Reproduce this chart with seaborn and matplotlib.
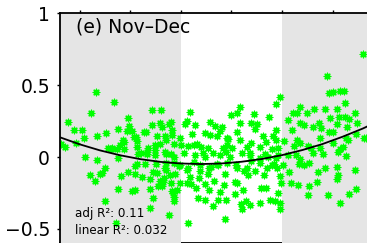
import numpy as np
import pandas as pd
import matplotlib
matplotlib.use('Agg')
import matplotlib.pyplot as plt
import seaborn as sns

# scatter values (year, anomaly)
years = [1953.3, 1956.8, 1952.3, 1959.5, 1947.6, 1948.9, 1950.4, 1950.9, 1953.5, 1955.2,
         1957.6, 1959.3, 1960.4, 1960.8, 1958.6, 1958.0, 1955.6, 1956.2, 1949.3, 1946.3,
         1947.1, 1957.4, 1951.0, 1953.5, 1957.6, 1955.0, 1954.5, 1952.1, 1953.0, 1954.1,
         1958.2, 1959.5, 1960.9, 1957.6, 1960.4, 1955.0, 1957.1, 1961.0, 1963.8, 1964.5,
         1963.8, 1967.6, 1966.3, 1965.8, 1966.7, 1968.0, 1968.3, 1968.7, 1968.6, 1961.3,
         1963.0, 1965.0, 1965.3, 1967.1, 1969.6, 1968.9, 1966.8, 1958.8, 1959.7, 1961.3,
         1962.8, 1964.3, 1965.3, 1966.8, 1967.6, 1968.3, 1965.9, 1968.6, 1969.9, 1965.9,
         1963.3, 1963.6, 1961.6, 1958.7, 1956.4, 1964.8, 1967.1, 1968.1, 1964.2, 1966.1,
         1968.1, 1966.2, 1963.2, 1961.1, 1968.3, 1967.1, 1964.9, 1961.4, 1970.1, 1962.1,
         1963.4, 1964.8, 1966.8, 1968.7, 1962.4, 1963.8, 1964.4, 1965.4, 1966.4, 1967.1,
         1967.8, 1968.5, 1969.2, 1969.9, 1961.0, 1968.7, 1969.9,
         1971.9, 1971.2, 1972.8, 1975.8, 1972.2, 1974.7, 1975.8, 1972.5, 1975.3, 1973.9,
         1981.6, 1981.2, 1979.9, 1984.4, 1987.5, 1981.6, 1983.8, 1985.1, 1978.2, 1976.8,
         1977.8, 1981.2, 1984.7, 1988.8, 1979.4, 1981.7, 1979.1, 1983.8, 1988.2, 1986.9,
         1988.9, 1980.1, 1983.1, 1985.7, 1988.0, 1970.8, 1977.1, 1979.1, 1986.2, 1989.2,
         1971.5, 1973.1, 1974.4, 1978.3, 1983.6, 1986.6, 1988.8, 1971.5, 1973.8, 1975.4,
         1977.1, 1979.1, 1981.1, 1982.4, 1983.8, 1985.7, 1987.0, 1988.4, 1971.2, 1974.7,
         1981.1, 1970.7, 1972.7, 1974.8, 1971.2, 1971.9, 1972.9, 1973.5, 1974.8, 1975.5,
         1971.4, 1972.5, 1973.7, 1975.5, 1976.4, 1977.7, 1979.0, 1979.7, 1982.0, 1983.6,
         1985.7, 1987.2, 1989.2, 1990.2, 1976.0, 1977.3, 1978.7, 1981.0, 1983.0, 1983.3,
         1984.7, 1986.4, 1988.0, 1989.0, 1989.6, 1989.9, 1976.5, 1978.5, 1977.8, 1980.7,
         1980.7, 1982.3, 1985.9, 1986.9, 1989.2, 1987.6, 1988.6, 1989.7, 1989.7, 1985.7,
         1982.9, 1983.6, 1981.8, 1982.0, 1978.9, 1977.3, 1976.4, 1978.7, 1973.3, 1972.0,
         2006.1, 1998.9, 1989.7, 1988.9, 1999.3, 2000.1, 2001.4, 2002.2, 2002.4, 1993.5,
         1992.2, 1992.9, 1994.9, 1996.3, 1998.5, 2000.9, 2004.4, 1991.1, 1993.5, 1994.4,
         1997.3, 1999.5, 2001.3, 2002.5, 2003.3, 2004.9, 1991.9, 1996.1, 1997.8, 1999.2,
         2000.1, 2000.8, 2002.8, 2006.6, 1992.9, 1993.5, 1995.2, 1997.5, 2000.1, 2003.0,
         2002.0, 1997.5, 1991.1, 1992.7, 1993.4, 1994.4, 1995.4, 1996.1, 1998.1, 2001.1,
         2002.6, 2000.8, 1998.6, 1997.2, 1991.3, 2004.4, 2001.1, 2000.8, 1991.7, 1993.2,
         1995.4, 1997.0, 1995.2, 1999.0, 2003.2, 2004.6, 2001.5, 1990.3, 1992.3, 1995.8,
         2001.5, 2002.7, 2004.7, 2006.3, 1993.5]
values = [0.453, 0.384, 0.308, 0.273, 0.243, 0.185, 0.185, 0.130, 0.146, 0.165,
          0.192, 0.181, 0.183, 0.137, 0.118, 0.085, 0.063, 0.053, 0.095, 0.092,
          0.072, 0.058, 0.002, -0.021, -0.009, -0.078, -0.113, -0.125, -0.165, -0.120,
          -0.132, -0.106, -0.060, -0.224, -0.234, -0.303, -0.456, -0.120, -0.224, -0.287,
          -0.352, -0.405, -0.201, -0.167, -0.144, -0.178, -0.236, -0.278, -0.306, -0.051,
          -0.051, -0.047, -0.109, -0.040, -0.063, -0.120, -0.074, 0.106, 0.215, 0.111,
          0.174, 0.222, 0.146, 0.146, 0.227, 0.185, 0.238, 0.088, 0.134, 0.088,
          0.023, 0.065, 0.019, 0.053, 0.065, 0.047, 0.023, 0.019, 0.326, 0.326,
          0.245, 0.206, 0.176, 0.141, 0.153, 0.118, 0.083, 0.072, 0.083, 0.026,
          0.037, 0.014, 0.037, 0.002, -0.137, -0.155, -0.102, -0.201, -0.172, -0.090,
          -0.125, -0.252, -0.229, -0.183, -0.229, -0.044, -0.056,
          0.310, 0.252, 0.222, 0.245, 0.160, 0.165, 0.153, 0.083, 0.060, 0.067,
          0.349, 0.303, 0.292, 0.297, 0.276, 0.234, 0.238, 0.227, 0.210, 0.217,
          0.181, 0.176, 0.194, 0.188, 0.123, 0.118, 0.083, 0.095, 0.146, 0.106,
          0.118, 0.060, 0.067, 0.067, 0.053, 0.227, 0.146, 0.134, 0.146, 0.065,
          0.076, 0.088, 0.030, 0.065, 0.030, 0.019, -0.005, -0.074, -0.097, -0.120,
          -0.051, -0.040, -0.074, -0.097, -0.028, -0.040, -0.074, -0.051, -0.178, -0.190,
          -0.178, 0.026, 0.014, 0.002, -0.090, -0.137, -0.217, -0.148, -0.299, -0.229,
          -0.460, -0.033, -0.056, -0.078, 0.026, 0.014, 0.037, 0.002, 0.030, 0.014,
          -0.009, 0.002, 0.014, -0.056, -0.067, -0.056, -0.118, -0.056, -0.078, -0.125,
          -0.095, -0.125, -0.056, -0.078, -0.132, -0.183, -0.165, -0.194, -0.241, -0.172,
          -0.257, -0.229, -0.217, -0.217, -0.252, -0.299, -0.303, -0.317, -0.363, -0.317,
          -0.303, -0.333, -0.326, -0.363, -0.299, -0.299, -0.340, -0.433, -0.283, -0.190,
          0.713, 0.563, 0.419, 0.366, 0.442, 0.453, 0.458, 0.458, 0.377, 0.349,
          0.308, 0.308, 0.308, 0.333, 0.331, 0.333, 0.308, 0.257, 0.238, 0.222,
          0.234, 0.269, 0.280, 0.280, 0.262, 0.234, 0.188, 0.210, 0.199, 0.176,
          0.176, 0.227, 0.210, 0.130, 0.118, 0.099, 0.076, 0.130, 0.095, 0.118,
          0.067, 0.060, 0.014, 0.014, -0.049, -0.056, -0.040, 0.026, 0.021, 0.037,
          0.007, -0.067, -0.078, -0.102, -0.104, -0.090, -0.125, -0.155, -0.178, -0.192,
          -0.199, -0.172, -0.264, -0.264, -0.257, -0.224, -0.322, 0.111, 0.076, 0.065,
          0.053, 0.134, 0.158, 0.134, -0.016]

# quadratic fit curve
fit_years = [1946, 1950, 1954, 1958, 1962, 1966, 1970, 1974, 1978, 1982,
             1986, 1990, 1994, 1998, 2002, 2006, 2010, 2012]
fit_values = [0.138, 0.088, 0.046, 0.012, -0.015, -0.034, -0.045, -0.049, -0.045, -0.033,
              -0.014, 0.013, 0.048, 0.090, 0.141, 0.198, 0.264, 0.299]

shade_spans = [(1946.1, 1970), (1990, 2012)]
panel_title = '(e) Nov\u2013Dec'
adj_r2 = '0.11'
lin_r2 = '0.032'

df = pd.DataFrame({'year': years, 'value': values})
fit = pd.DataFrame({'year': fit_years, 'value': fit_values})

fig = plt.figure(figsize=(3.67, 2.43), dpi=100)
ax = fig.add_axes([0.1635, -0.0016, 0.908, 0.948])

for a, b in shade_spans:
    ax.axvspan(a, b, color='#e5e5e5', lw=0, zorder=1)

sns.scatterplot(data=df, x='year', y='value', ax=ax, marker=(8, 2, 0), color='#00ff00',
                s=22, linewidth=0.95, zorder=2, legend=False)
sns.lineplot(data=fit, x='year', y='value', ax=ax, color='black', lw=1.3, zorder=3)

ax.set_xlim(1946.1, 2012)
ax.set_ylim(-0.6, 1)
ax.set_xticks([1950, 1960, 1970, 1980, 1990, 2000, 2010])
ax.set_yticks([-0.5, 0, 0.5, 1])
ax.set_yticklabels(['\u22120.5', '0', '0.5', '1'])
ax.set_xlabel('')
ax.set_ylabel('')
ax.tick_params(axis='x', bottom=False, top=True, labelbottom=False, direction='out',
               length=2.2, width=1)
ax.tick_params(axis='y', direction='out', length=2.2, width=1, labelsize=13.5, pad=5)
for s in ax.spines.values():
    s.set_linewidth(1.3)
ax.spines['bottom'].set_zorder(0.5)

ax.text(0.048, 0.9175, panel_title, transform=ax.transAxes, fontsize=13.5, va='baseline')
ax.text(0.045, 0.116, 'adj R\u00b2: ' + adj_r2, transform=ax.transAxes, fontsize=8.6,
        va='baseline', zorder=4)
ax.text(0.045, 0.0395, 'linear R\u00b2: ' + lin_r2, transform=ax.transAxes, fontsize=8.6,
        va='baseline', zorder=4)

plt.savefig('out.png', dpi=100)
